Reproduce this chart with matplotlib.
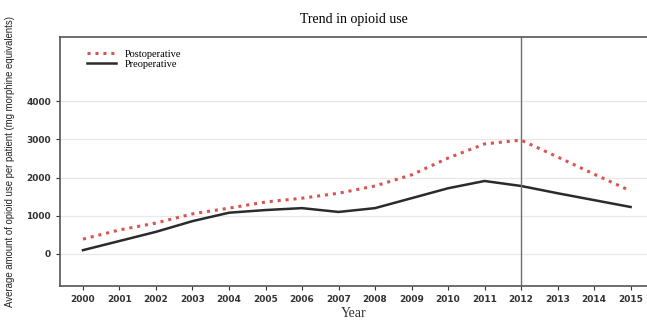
import matplotlib
matplotlib.use("Agg")
import matplotlib.pyplot as plt

years = list(range(2000, 2016))
postop = [390, 630, 810, 1050, 1200, 1360, 1460, 1590, 1780, 2070, 2510, 2880, 2980, 2540, 2090, 1650]
preop = [100, 340, 580, 860, 1080, 1150, 1200, 1100, 1200, 1460, 1720, 1910, 1780, 1590, 1410, 1230]
yticks = [0, 1000, 2000, 3000, 4000]
marker_year = 2012

fig = plt.figure(figsize=(6.47, 3.24), dpi=100)
ax = fig.add_axes([0.0927, 0.117, 0.9073, 0.769])

ax.plot(years, postop, color="#d9534f", linestyle=(0, (1, 1.6)), linewidth=2.2, label="Postoperative")
ax.plot(years, preop, color="#2b2b2b", linewidth=1.8, label="Preoperative")
ax.axvline(marker_year, color="#6e6e6e", linewidth=1.0)

ax.set_xlim(1999.37, 2015.45)
ax.set_ylim(-840, 5680)
ax.set_xticks(years)
ax.set_xticklabels([str(y) for y in years])
ax.set_yticks(yticks)
ax.grid(axis="y", color="#e8e8e8", linewidth=0.9)
ax.set_axisbelow(True)
ax.tick_params(labelsize=6.5, length=3, width=0.8, colors="#333333")
for lab in ax.get_xticklabels() + ax.get_yticklabels():
    lab.set_fontweight("bold")

for side in ["left", "bottom", "top"]:
    ax.spines[side].set_color("#555555")
    ax.spines[side].set_linewidth(1.2)
ax.spines["right"].set_visible(False)

ax.set_title("Trend in opioid use", family="Liberation Serif", fontsize=10, pad=10)
ax.set_xlabel("Year", family="Liberation Serif", fontsize=10, labelpad=2, color="#333333")
ax.set_ylabel("Average amount of opioid use per patient (mg morphine equivalents)",
              family="Liberation Sans", fontsize=6.9, color="#222222")
ax.yaxis.set_label_coords(-0.077, 0.5)

ax.legend(loc="upper left", bbox_to_anchor=(0.035, 0.975), frameon=False,
          prop={"family": "Liberation Serif", "size": 7.5},
          handlelength=2.8, labelspacing=0.1, borderaxespad=0.2)

fig.savefig("out.png", dpi=100)
